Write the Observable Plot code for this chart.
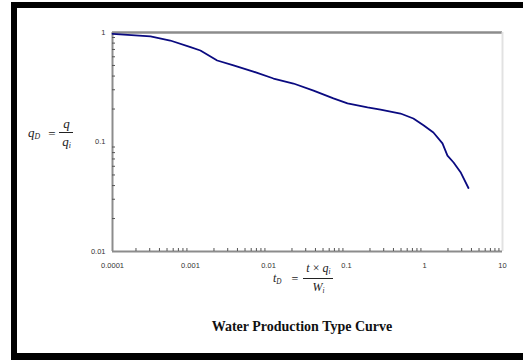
<!DOCTYPE html>
<html>
<head>
<meta charset="utf-8">
<script src="https://cdn.jsdelivr.net/npm/d3@7"></script>
<script src="https://cdn.jsdelivr.net/npm/@observablehq/plot@0.6"></script>
<style>
  html, body { margin: 0; padding: 0; background: #fff; overflow: hidden; }
  #wrap { position: relative; width: 523px; height: 360px; overflow: hidden; background: #fff; }
  #frame { position: absolute; left: 11px; top: 2px; width: 530px; height: 345px; border: 6px solid #000; border-bottom-width: 7px; pointer-events: none; }
  .math { position: absolute; font-family: "Liberation Serif", "DejaVu Serif", serif; font-style: italic; color: #222; line-height: 1; white-space: nowrap; }
  .eq { display: inline-block; font-style: normal; vertical-align: middle; }
  .frac { display: inline-block; vertical-align: middle; text-align: center; }
  .frac .num { display: block; padding: 0 2px 2px 2px; }
  .frac .den { display: block; border-top: 1.3px solid #222; padding: 2px 2px 0 2px; }
  sub { font-size: 0.6em; vertical-align: -0.3em; }
  #title { position: absolute; left: 0; width: 604px; top: 319px; text-align: center; font-family: "Liberation Serif", "DejaVu Serif", serif; font-weight: bold; font-size: 14px; color: #111; }
</style>
</head>
<body>
<div id="wrap">
  <div id="chart"></div>
  <div class="math" id="ylab" style="left:28px; top:117px; font-size:13px;"><span style="vertical-align:middle">q<sub>D</sub></span><span class="eq" style="margin:0 4px 0 8px">=</span><span class="frac" style="min-width:14px"><span class="num">q</span><span class="den">q<sub>i</sub></span></span></div>
  <div class="math" id="xlab" style="left:273px; top:262px; font-size:12px;"><span style="vertical-align:middle">t<sub>D</sub></span><span class="eq" style="margin:0 5px 0 10px">=</span><span class="frac"><span class="num" style="padding:0 3px 2px 3px">t&nbsp;<span style="font-style:normal">×</span>&nbsp;q<sub>i</sub></span><span class="den">W<sub>i</sub></span></span></div>
  <div id="title">Water Production Type Curve</div>
  <div id="frame"></div>
</div>
<script>
// Data
const tD = [0.0001, 0.000307, 0.00055, 0.001, 0.00134, 0.0022, 0.00356, 0.0064, 0.0116, 0.0209, 0.0378, 0.068, 0.103, 0.186, 0.273, 0.492, 0.72, 0.97, 1.30, 1.70, 1.97, 2.36, 2.90, 3.66];
const qD = [0.973, 0.92, 0.845, 0.734, 0.685, 0.555, 0.50, 0.44, 0.38, 0.342, 0.295, 0.25, 0.225, 0.207, 0.198, 0.182, 0.164, 0.142, 0.122, 0.097, 0.075, 0.065, 0.053, 0.038];

const xTickValues = [0.0001, 0.001, 0.01, 0.1, 1, 10];
const xTickLabels = ["0.0001", "0.001", "0.01", "0.1", "1", "10"];
const yTickValues = [0.01, 0.1, 1];
const yTickLabels = ["0.01", "0.1", "1"];

const xDomain = [0.0001, 10];
const yDomain = [0.01, 1];

const minorX = d3.scaleLog().domain(xDomain).ticks().filter(v => !xTickValues.includes(v));
const minorY = d3.scaleLog().domain(yDomain).ticks().filter(v => !yTickValues.includes(v));

const data = tD.map((t, i) => ({t, q: qD[i]}));

const chart = Plot.plot({
  width: 523,
  height: 360,
  marginLeft: 112,
  marginRight: 21,
  marginTop: 32,
  marginBottom: 109,
  style: {fontFamily: "Liberation Sans, Arial, sans-serif", fontSize: "7.5px", color: "#333", background: "transparent"},
  x: {type: "log", domain: xDomain, label: null},
  y: {type: "log", domain: yDomain, label: null},
  marks: [
    Plot.ruleY([1], {stroke: "#8c8c8c", strokeWidth: 2.5}),
    Plot.ruleX([10], {stroke: "#e2e2e2", strokeWidth: 2}),
    Plot.ruleX([0.0001], {stroke: "#8c8c8c", strokeWidth: 2}),
    Plot.ruleY([0.01], {stroke: "#8c8c8c", strokeWidth: 2}),
    Plot.axisX(xTickValues, {tickSize: 0, tickPadding: 11, label: null, tickFormat: (d) => xTickLabels[xTickValues.indexOf(d)], fill: "#333"}),
    Plot.axisX(minorX, {tickSize: -3, label: null, tickFormat: () => "", stroke: "#555"}),
    Plot.axisY(yTickValues, {tickSize: 0, tickPadding: 7, label: null, tickFormat: (d) => yTickLabels[yTickValues.indexOf(d)], fill: "#333"}),
    Plot.axisY(minorY, {tickSize: -3, label: null, tickFormat: () => "", stroke: "#555"}),
    Plot.line(data, {x: "t", y: "q", stroke: "#0a0a80", strokeWidth: 1.8, curve: "linear"})
  ]
});
document.getElementById("chart").appendChild(chart);
</script>
</body>
</html>
